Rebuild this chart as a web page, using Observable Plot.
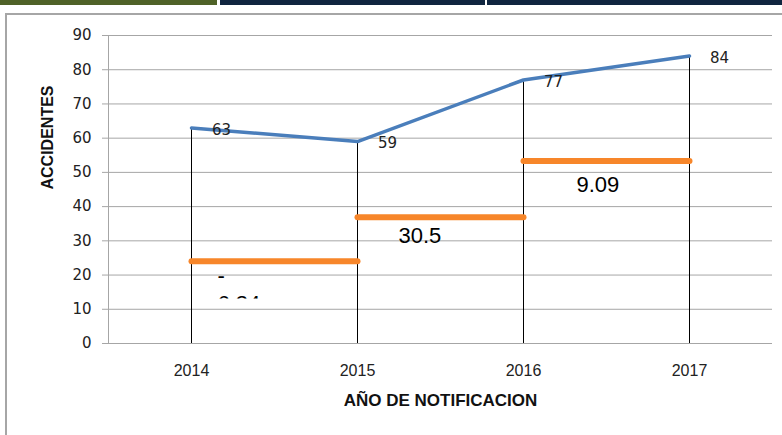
<!DOCTYPE html>
<html><head><meta charset="utf-8">
<script src="https://cdn.jsdelivr.net/npm/d3@7"></script>
<script src="https://cdn.jsdelivr.net/npm/@observablehq/plot@0.6"></script>
<style>
html,body{margin:0;padding:0;background:#fff;}
#wrap{position:relative;width:782px;height:435px;overflow:hidden;}
.bar{position:absolute;top:0;height:5px;}
#frame{position:absolute;left:5px;top:13px;width:900px;height:600px;border-left:2px solid #a6a6a6;border-top:2px solid #a6a6a6;pointer-events:none;z-index:2;}
#chart{position:absolute;left:0;top:0;z-index:1;}
g[aria-label="y-axis tick label"]{font-family:"DejaVu Sans",sans-serif;font-size:15px;}
g[aria-label="x-axis tick label"]{font-family:"Liberation Sans",sans-serif;font-size:16px;}
</style></head><body>
<div id="wrap">
<div class="bar" style="left:0;width:217px;background:#4f6228"></div>
<div class="bar" style="left:220px;width:265px;background:#10253f"></div>
<div class="bar" style="left:487px;width:295px;background:#10253f"></div>
<div id="chart"></div>
<div id="frame"></div>
</div>
<script>
const years = ["2014", "2015", "2016", "2017"];
const accidents = [63, 59, 77, 84];
const changeLevels = [24, 36.9, 53.3];
const changeLabels = ["-6.34", "30.5", "9.09"];
const yTicks = [0, 10, 20, 30, 40, 50, 60, 70, 80, 90];
const yTitle = "ACCIDENTES";
const xTitle = "AÑO DE NOTIFICACION";

const pts = years.map((y, i) => ({year: y, value: accidents[i]}));
const segs = changeLevels.map((v, i) => ({from: years[i], to: years[i + 1], level: v, label: changeLabels[i]}));

const labelOpts = {
  x: "from", y: "level",
  text: d => d.label.replace(/^-/, "-\n"),
  textAnchor: "start", lineAnchor: "top", lineHeight: 1.27,
  fontFamily: "Liberation Sans, sans-serif", fontSize: 22, fill: "#000"
};

const chart = Plot.plot({
  width: 782,
  height: 435,
  marginLeft: 108,
  marginRight: 10,
  marginTop: 35,
  marginBottom: 92,
  style: {background: "transparent", fontFamily: "DejaVu Sans, sans-serif", fontSize: "15px", color: "#222"},
  x: {type: "point", domain: years, padding: 0.5, label: null},
  y: {domain: [0, 90], label: null},
  marks: [
    Plot.gridY(yTicks, {stroke: "#a6a6a6", strokeOpacity: 1, strokeWidth: 1}),
    Plot.frame({anchor: "left", stroke: "#a6a6a6"}),
    Plot.axisY(yTicks, {tickSize: 6, tickPadding: 11, stroke: "#a6a6a6", fill: "#222", label: null}),
    Plot.axisX({tickSize: 0, tickPadding: 21, fill: "#222", label: null}),
    Plot.ruleX(pts, {x: "year", y1: 0, y2: "value", stroke: "#000", strokeWidth: 1}),
    Plot.link(segs, {x1: "from", x2: "to", y1: "level", y2: "level", stroke: "#f7862a", strokeWidth: 6, strokeLinecap: "round"}),
    Plot.line(pts, {x: "year", y: "value", stroke: "#4a7ebb", strokeWidth: 3.5}),
    Plot.text(pts, {x: "year", y: "value", text: d => String(d.value), dx: 30, dy: 2, fontFamily: "DejaVu Sans, sans-serif", fontSize: 15, fill: "#222"}),
    Plot.text([segs[0]], {...labelOpts, dx: 26, dy: 2}),
    Plot.text([segs[1]], {...labelOpts, dx: 41, dy: 6}),
    Plot.text([segs[2]], {...labelOpts, dx: 53, dy: 11}),
    Plot.text([yTitle], {text: d => d, frameAnchor: "left", rotate: -90, dx: -61, fontFamily: "Liberation Sans, sans-serif", fontWeight: "bold", fontSize: 16, fill: "#111"}),
    Plot.text([xTitle], {text: d => d, frameAnchor: "bottom", dy: 62, fontFamily: "Liberation Sans, sans-serif", fontWeight: "bold", fontSize: 17, fill: "#111", letterSpacing: "0.5px"})
  ]
});

document.getElementById("chart").appendChild(chart);

// The first change label is cut off in the original: clip its second line.
try {
  const ys = chart.scale("y");
  const [d0, d1] = ys.domain, [r0, r1] = ys.range;
  const clipBottom = r0 + (13 - d0) / (d1 - d0) * (r1 - r0);
  const NS = "http://www.w3.org/2000/svg";
  const defs = document.createElementNS(NS, "defs");
  const cp = document.createElementNS(NS, "clipPath");
  cp.setAttribute("id", "lblclip");
  cp.setAttribute("clipPathUnits", "userSpaceOnUse");
  const rect = document.createElementNS(NS, "rect");
  rect.setAttribute("x", -1000);
  rect.setAttribute("y", -1000);
  rect.setAttribute("width", 3000);
  rect.setAttribute("height", 1000 + clipBottom);
  cp.appendChild(rect);
  defs.appendChild(cp);
  chart.insertBefore(defs, chart.firstChild);
  chart.querySelectorAll("text").forEach(t => {
    if (t.textContent.replace(/\s/g, "").indexOf("6.34") >= 0) {
      const g = document.createElementNS(NS, "g");
      g.setAttribute("clip-path", "url(#lblclip)");
      const parent = t.parentNode;
      const outer = parent.parentNode;
      outer.insertBefore(g, parent);
      g.appendChild(parent);
    }
  });
} catch (e) { console.error(e); }
</script>
</body></html>
